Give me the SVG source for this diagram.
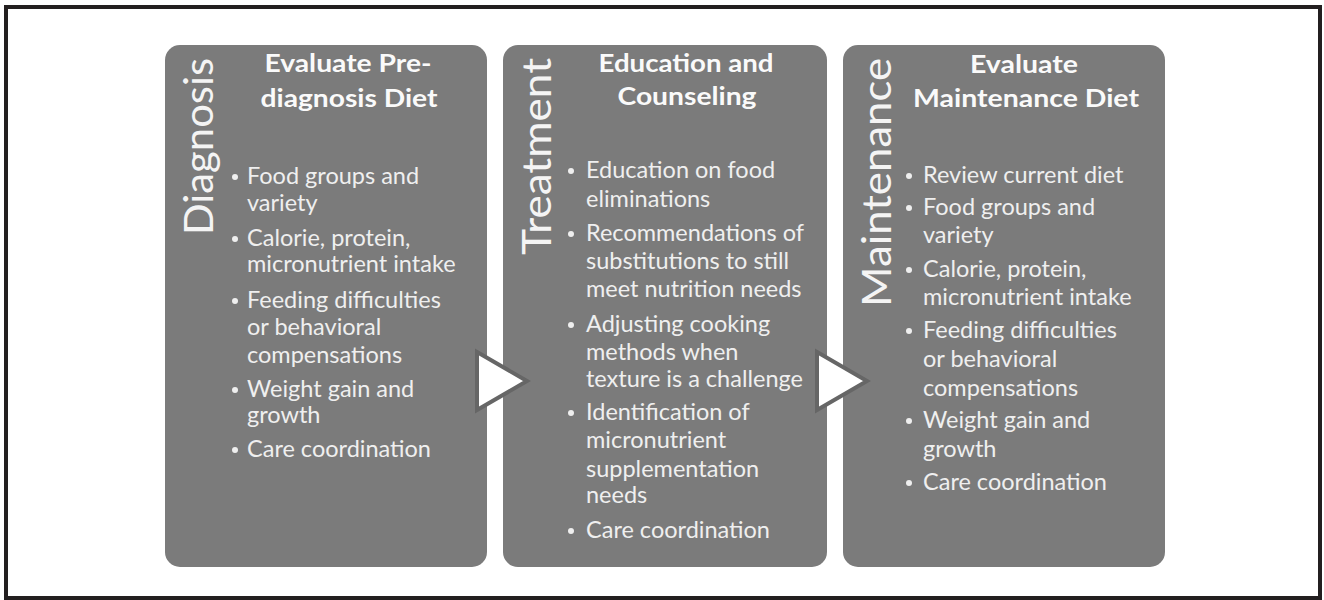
<svg xmlns="http://www.w3.org/2000/svg" width="1324" height="600" viewBox="0 0 1324 600">
<style>
.frame{fill:#fff;stroke:#231f20;stroke-width:4}
.box{fill:#7b7b7b}
.arrow{fill:#fff;stroke:#666;stroke-width:4;stroke-linejoin:miter}
.phase{font-family:Lato,"Open Sans",sans-serif;font-weight:normal;font-size:40px;fill:#f4f4f4}
.title{font-family:Lato,"Open Sans",sans-serif;font-weight:bold;font-size:24px;fill:#fafafa;text-anchor:middle}
.item{font-family:Lato,"Open Sans",sans-serif;font-size:23.5px;fill:#efefef}
.dot{fill:#efefef}
</style>
<rect class="frame" x="6" y="7" width="1314" height="591"/>
<g id="diagnosis">
<rect class="box" x="165" y="45" width="322" height="522" rx="15"/>
<text class="phase" transform="translate(213,235) rotate(-90)" textLength="177" lengthAdjust="spacingAndGlyphs">Diagnosis</text>
<text class="title" x="348" y="72" textLength="167" lengthAdjust="spacingAndGlyphs">Evaluate Pre-</text>
<text class="title" x="349" y="107" textLength="177" lengthAdjust="spacingAndGlyphs">diagnosis Diet</text>
<g class="item">
<circle class="dot" cx="235" cy="177" r="3"/><text x="247" y="184">Food groups and</text>
<text x="247" y="211">variety</text>
<circle class="dot" cx="235" cy="239" r="3"/><text x="247" y="246">Calorie, protein,</text>
<text x="247" y="272">micronutrient  intake</text>
<circle class="dot" cx="235" cy="301" r="3"/><text x="247" y="308">Feeding difficulties</text>
<text x="247" y="335">or behavioral</text>
<text x="247" y="363">compensations</text>
<circle class="dot" cx="235" cy="390" r="3"/><text x="247" y="397">Weight gain and</text>
<text x="247" y="423">growth</text>
<circle class="dot" cx="235" cy="450" r="3"/><text x="247" y="457">Care coordination</text>
</g>
</g>
<g id="treatment">
<rect class="box" x="503" y="45" width="324" height="522" rx="15"/>
<text class="phase" transform="translate(551,255) rotate(-90)" textLength="197" lengthAdjust="spacingAndGlyphs">Treatment</text>
<text class="title" x="686" y="72" textLength="175" lengthAdjust="spacingAndGlyphs">Education and</text>
<text class="title" x="687" y="105" textLength="139" lengthAdjust="spacingAndGlyphs">Counseling</text>
<g class="item">
<circle class="dot" cx="571" cy="171" r="3"/><text x="586" y="178">Education on food</text>
<text x="586" y="207">eliminations</text>
<circle class="dot" cx="571" cy="234" r="3"/><text x="586" y="241">Recommendations of</text>
<text x="586" y="269">substitutions to still</text>
<text x="586" y="297">meet nutrition  needs</text>
<circle class="dot" cx="571" cy="325" r="3"/><text x="586" y="332">Adjusting cooking</text>
<text x="586" y="360">methods  when</text>
<text x="586" y="387">texture  is a challenge</text>
<circle class="dot" cx="571" cy="413" r="3"/><text x="586" y="420">Identification of</text>
<text x="586" y="448">micronutrient</text>
<text x="586" y="477">supplementation</text>
<text x="586" y="503">needs</text>
<circle class="dot" cx="571" cy="531" r="3"/><text x="586" y="538">Care coordination</text>
</g>
</g>
<g id="maintenance">
<rect class="box" x="843" y="45" width="322" height="522" rx="15"/>
<text class="phase" transform="translate(891,307) rotate(-90)" textLength="249" lengthAdjust="spacingAndGlyphs">Maintenance</text>
<text class="title" x="1024" y="73" textLength="108" lengthAdjust="spacingAndGlyphs">Evaluate</text>
<text class="title" x="1026" y="107" textLength="226" lengthAdjust="spacingAndGlyphs">Maintenance Diet</text>
<g class="item">
<circle class="dot" cx="909" cy="176" r="3"/><text x="923" y="183">Review current  diet</text>
<circle class="dot" cx="909" cy="208" r="3"/><text x="923" y="215">Food groups and</text>
<text x="923" y="243">variety</text>
<circle class="dot" cx="909" cy="270" r="3"/><text x="923" y="277">Calorie, protein,</text>
<text x="923" y="305">micronutrient  intake</text>
<circle class="dot" cx="909" cy="331" r="3"/><text x="923" y="338">Feeding difficulties</text>
<text x="923" y="367">or behavioral</text>
<text x="923" y="396">compensations</text>
<circle class="dot" cx="909" cy="421" r="3"/><text x="923" y="428">Weight gain and</text>
<text x="923" y="457">growth</text>
<circle class="dot" cx="909" cy="483" r="3"/><text x="923" y="490">Care coordination</text>
</g>
</g>
<g id="connectors">
<polygon class="arrow" points="477,352 527,381 477,410"/>
<polygon class="arrow" points="817,352 867,381 817,410"/>
</g>
</svg>
